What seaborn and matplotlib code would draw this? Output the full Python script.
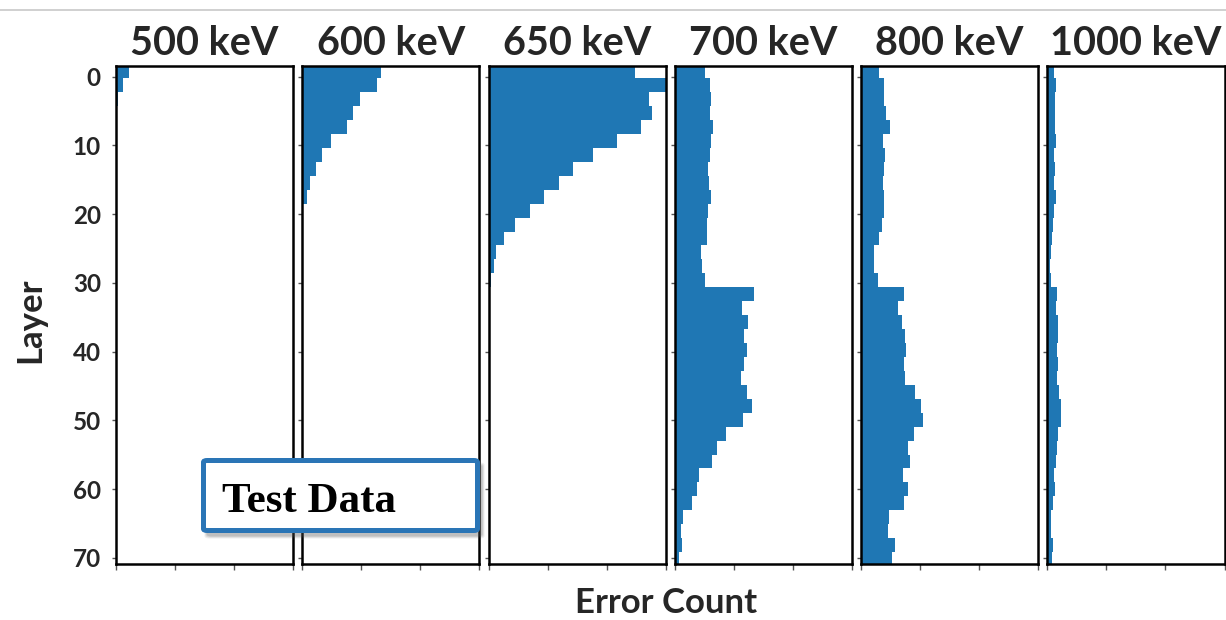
import numpy as np
import pandas as pd
import matplotlib
matplotlib.use("Agg")
import matplotlib.pyplot as plt
from matplotlib.patches import FancyBboxPatch
from matplotlib.lines import Line2D
import seaborn as sns

# Beam energies (keV) shown as one panel each
energies = [500, 600, 650, 700, 800, 1000]

# Error counts per layer bin (bins of ~2 layers, top of the stack first)
counts_500 = [10.6, 6.3, 2.0, 0.4]
counts_600 = [66.9, 63.1, 48.8, 43.0, 38.1, 24.7, 16.6, 11.4, 6.6, 3.7]
counts_650 = [124.2, 150.0, 136.2, 138.3, 129.3, 109.0, 88.6, 71.7, 59.4, 46.7,
              35.3, 22.1, 12.9, 6.0, 4.3, 2.3, 0.9]
counts_700 = [25.2, 30.1, 31.0, 30.1, 32.7, 31.0, 29.9, 28.1, 28.7, 31.0,
              28.1, 27.3, 27.3, 22.4, 23.2, 25.6, 66.9, 56.8, 62.2, 58.3,
              60.8, 58.5, 56.2, 61.4, 65.4, 57.4, 43.0, 35.9, 31.2, 20.4,
              18.9, 14.4, 6.6, 5.2, 6.0, 3.2]
counts_800 = [15.2, 19.5, 19.5, 21.5, 24.4, 18.9, 20.1, 19.5, 18.7, 19.5,
              19.5, 18.1, 15.2, 11.4, 11.4, 14.4, 36.7, 31.6, 34.7, 37.3,
              38.1, 36.7, 37.6, 45.4, 51.0, 52.8, 44.8, 39.6, 41.1, 35.9,
              39.6, 36.7, 23.8, 23.0, 28.7, 25.8]
counts_1000 = [5.8, 7.7, 6.3, 6.3, 6.3, 7.7, 5.8, 6.3, 5.8, 7.1,
               5.8, 5.2, 4.3, 2.8, 2.0, 2.8, 8.6, 7.1, 9.2, 9.2,
               8.6, 9.2, 8.6, 10.1, 11.4, 12.0, 9.2, 8.6, 7.1, 5.8,
               6.3, 5.2, 2.8, 2.8, 4.9, 3.7]

# Layer bin edges of the histogram and the axis ticks
layer_edges = [float(v) for v in np.linspace(-1.8, 71.2, 37)]
layer_ticks = [0, 10, 20, 30, 40, 50, 60, 70]
count_ticks = [0, 50, 100, 150]

all_counts = [counts_500, counts_600, counts_650, counts_700, counts_800, counts_1000]
n_bins = len(layer_edges) - 1
edges_arr = np.array(layer_edges)
centers = 0.5 * (edges_arr[:-1] + edges_arr[1:])

rows = []
for e, c in zip(energies, all_counts):
    full = list(c) + [0.0] * (n_bins - len(c))
    for y, w in zip(centers, full):
        rows.append({"energy": e, "layer": float(y), "count": float(w)})
df = pd.DataFrame(rows)

sns.set_theme(style="ticks")
plt.rcParams["font.family"] = ["Lato", "DejaVu Sans"]
plt.rcParams["font.weight"] = "bold"

W, H = 1226, 620
fig = plt.figure(figsize=(W / 100, H / 100), dpi=100)
axes = fig.subplots(1, len(energies), sharey=True)
fig.subplots_adjust(left=116 / W, right=1224.5 / W, top=1 - 66 / H,
                    bottom=1 - 564 / H, wspace=0.051)

bar_color = "#1f77b4"
for ax, e in zip(axes, energies):
    sub = df[df["energy"] == e].reset_index(drop=True)
    sns.histplot(data=sub, y="layer", weights="count", bins=layer_edges,
                 ax=ax, color=bar_color, alpha=1, linewidth=0)
    ax.set_xlim(0, 150)
    ax.set_ylim(70.9, -1.55)
    ax.set_xticks(count_ticks)
    ax.set_yticks(layer_ticks)
    ax.set_xlabel("")
    ax.set_ylabel("")
    ax.set_title(f"{e} keV", fontsize=28.5, fontweight="bold", pad=8)
    for s in ax.spines.values():
        s.set_visible(True)
        s.set_color("black")
        s.set_linewidth(1.8)
    ax.tick_params(axis="x", length=4, width=1, color="#555555", labelbottom=False)
    ax.tick_params(axis="y", length=3, width=1, color="#555555", pad=8,
                   labelsize=17.5)
    ax.set_facecolor("white")

for lab in axes[0].get_yticklabels():
    lab.set_fontweight("bold")

# Shared axis labels
fig.text(30 / W, 1 - 320 / H, "Layer", rotation=90, ha="center", va="center",
         fontsize=25, fontweight="bold")
fig.text(666 / W, 1 - 613 / H, "Error Count", ha="center", va="baseline",
         fontsize=25, fontweight="bold")

# Thin rule along the top
fig.add_artist(Line2D([0, 1], [1 - 9.5 / H] * 2, color="#c8c8c8", lw=1.2,
                      transform=fig.transFigure))

# "Test Data" call-out box with a soft shadow
x0, y0, x1, y1 = 203.5, 460.5, 477.5, 530.5
for k, a in enumerate([0.10, 0.14, 0.18]):
    grow = 3 - k
    sh = FancyBboxPatch(((x0 + 4 - grow) / W, 1 - (y1 + 5 + grow) / H),
                        (x1 - x0 + 2 * grow) / W, (y1 - y0 + 2 * grow) / H,
                        boxstyle="round,pad=0,rounding_size=0.004",
                        transform=fig.transFigure, facecolor="#555555",
                        edgecolor="none", alpha=a, zorder=9)
    fig.add_artist(sh)
box = FancyBboxPatch((x0 / W, 1 - y1 / H), (x1 - x0) / W, (y1 - y0) / H,
                     boxstyle="round,pad=0,rounding_size=0.003",
                     transform=fig.transFigure, facecolor="white",
                     edgecolor="#2a75b6", linewidth=3.6, zorder=10)
fig.add_artist(box)
fig.text(222 / W, 1 - 512 / H, "Test Data", ha="left", va="baseline",
         fontsize=31, fontweight="bold", family=["Liberation Serif", "DejaVu Serif"],
         color="black", zorder=11)

fig.savefig("out.png", dpi=100, facecolor="white")
